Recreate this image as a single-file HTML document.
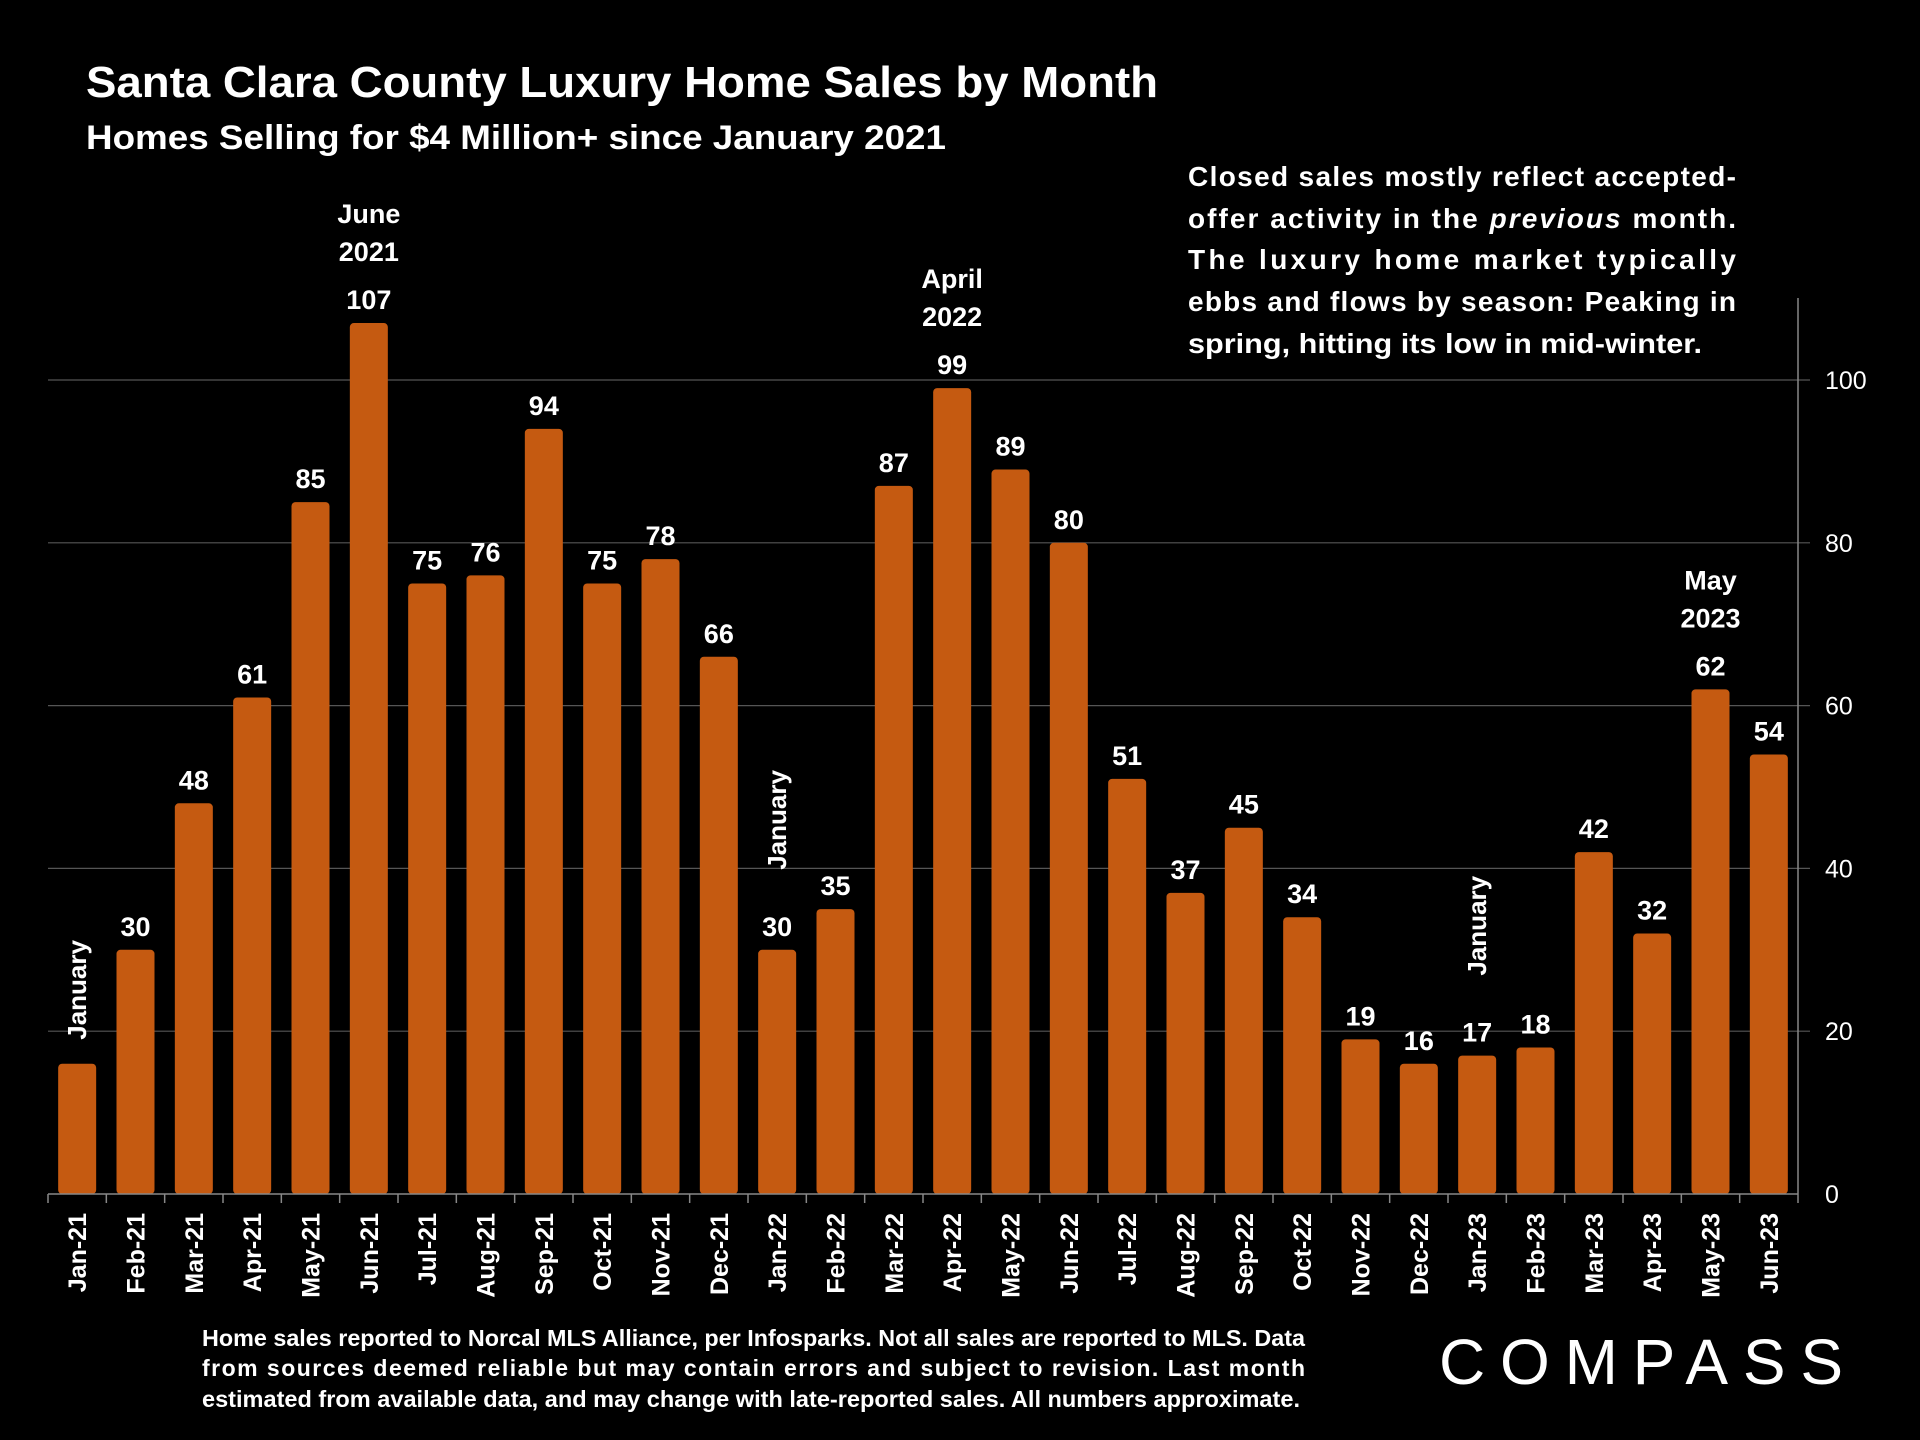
<!DOCTYPE html>
<html><head><meta charset="utf-8"><style>
html,body{margin:0;padding:0;background:#000;}
svg{display:block;font-family:"Liberation Sans",sans-serif;}
</style></head><body>
<svg id="chart" width="1920" height="1440" viewBox="0 0 1920 1440" xmlns="http://www.w3.org/2000/svg">
<rect width="1920" height="1440" fill="#000"/>
<text x="86" y="97" fill="#fff" font-weight="bold" font-size="44" textLength="1072" lengthAdjust="spacingAndGlyphs">Santa Clara County Luxury Home Sales by Month</text>
<text x="86" y="149" fill="#fff" font-weight="bold" font-size="34" textLength="860" lengthAdjust="spacingAndGlyphs">Homes Selling for $4 Million+ since January 2021</text>
<g fill="#fff" font-weight="bold" font-size="28">
<text x="1188" y="186" textLength="548" lengthAdjust="spacing">Closed sales mostly reflect accepted-</text>
<text x="1188" y="228" textLength="548" lengthAdjust="spacing">offer activity in the <tspan font-style="italic">previous</tspan> month.</text>
<text x="1188" y="269" textLength="548" lengthAdjust="spacing">The luxury home market typically</text>
<text x="1188" y="311" textLength="548" lengthAdjust="spacing">ebbs and flows by season: Peaking in</text>
<text x="1188" y="353" textLength="514" lengthAdjust="spacingAndGlyphs">spring, hitting its low in mid-winter.</text>
</g>
<g id="grid"></g><g id="bars"></g><g id="labels"></g><g id="axes"></g>
<g fill="#fff" font-weight="bold" font-size="23">
<text x="202" y="1346" textLength="1103" lengthAdjust="spacingAndGlyphs">Home sales reported to Norcal MLS Alliance, per Infosparks. Not all sales are reported to MLS. Data</text>
<text x="202" y="1376" textLength="1103" lengthAdjust="spacing">from sources deemed reliable but may contain errors and subject to revision.  Last month</text>
<text x="202" y="1407" textLength="1098" lengthAdjust="spacingAndGlyphs">estimated from available data, and may change with late-reported sales. All numbers approximate.</text>
</g>
<text x="1439" y="1384" fill="#fff" font-size="64" textLength="404" lengthAdjust="spacing">COMPASS</text>
</svg>
<script>
const categories=["Jan-21","Feb-21","Mar-21","Apr-21","May-21","Jun-21","Jul-21","Aug-21","Sep-21","Oct-21","Nov-21","Dec-21","Jan-22","Feb-22","Mar-22","Apr-22","May-22","Jun-22","Jul-22","Aug-22","Sep-22","Oct-22","Nov-22","Dec-22","Jan-23","Feb-23","Mar-23","Apr-23","May-23","Jun-23"];
const sales=[16,30,48,61,85,107,75,76,94,75,78,66,30,35,87,99,89,80,51,37,45,34,19,16,17,18,42,32,62,54];
const printed=[null,30,48,61,85,107,75,76,94,75,78,66,30,35,87,99,89,80,51,37,45,34,19,16,17,18,42,32,62,54];
const yTicks=[0,20,40,60,80,100];
const topNotes=[[5,"June","2021"],[15,"April","2022"],[28,"May","2023"]];
const janNotes=[0,12,24];
const NS="http://www.w3.org/2000/svg";
const X0=48,X1=1798,Y0=1194,PXU=8.14;
const step=(X1-X0)/categories.length;
const xc=i=>X0+step*(i+0.5);
const y=v=>Y0-v*PXU;
function mk(tag,attrs,parent,txt){const e=document.createElementNS(NS,tag);for(const k in attrs)e.setAttribute(k,attrs[k]);if(txt!=null)e.textContent=txt;document.getElementById(parent).appendChild(e);return e;}
yTicks.forEach(t=>{
 if(t>0){const g=mk('line',{x1:X0,x2:X1+12,y1:y(t),y2:y(t),stroke:'#555','stroke-width':1.2},'grid');
 
 }
 const l=mk('text',{x:1825,y:y(t)+9,fill:'#fff','font-size':25},'axes',String(t));
 
 
});
const ax=mk('line',{x1:X1,x2:X1,y1:298,y2:Y0,stroke:'#888','stroke-width':1.5},'axes');


const bx=mk('line',{x1:X0,x2:X1,y1:Y0,y2:Y0,stroke:'#888','stroke-width':1.5},'axes');


for(let i=0;i<=categories.length;i++){
 const tk=mk('line',{x1:X0+step*i,x2:X0+step*i,y1:Y0,y2:Y0+9,stroke:'#888','stroke-width':1.5},'axes');
 
 
}
categories.forEach((c,i)=>{
 const w=38,v=sales[i];
 const b=mk('rect',{x:xc(i)-w/2,y:y(v),width:w,height:v*PXU,rx:4,fill:'#C55A11'},'bars');
 
 
 const xl=mk('text',{x:0,y:0,fill:'#fff','font-size':25,'font-weight':'bold','text-anchor':'end',transform:`translate(${xc(i)+9},1213) rotate(-90)`},'axes',c);
 
 
 if(printed[i]!=null){
  const vl=mk('text',{x:xc(i),y:y(v)-14,fill:'#fff','font-size':27,'font-weight':'bold','text-anchor':'middle'},'labels',String(printed[i]));
  
  
 }
});
topNotes.forEach(([i,a,b])=>{
 const base=y(sales[i])-14;
 const t1=mk('text',{x:xc(i),y:base-86,fill:'#fff','font-size':27,'font-weight':'bold','text-anchor':'middle'},'labels',a);
 
 
 const t2=mk('text',{x:xc(i),y:base-48,fill:'#fff','font-size':27,'font-weight':'bold','text-anchor':'middle'},'labels',b);
 
 
});
janNotes.forEach(i=>{
 const top=printed[i]!=null?y(sales[i])-80:y(sales[i])-24;
 const j=mk('text',{x:0,y:0,fill:'#fff','font-size':26,'font-weight':'bold','text-anchor':'start',transform:`translate(${xc(i)+9},${top}) rotate(-90)`},'labels','January');
 
 
});
</script>
</body></html>
